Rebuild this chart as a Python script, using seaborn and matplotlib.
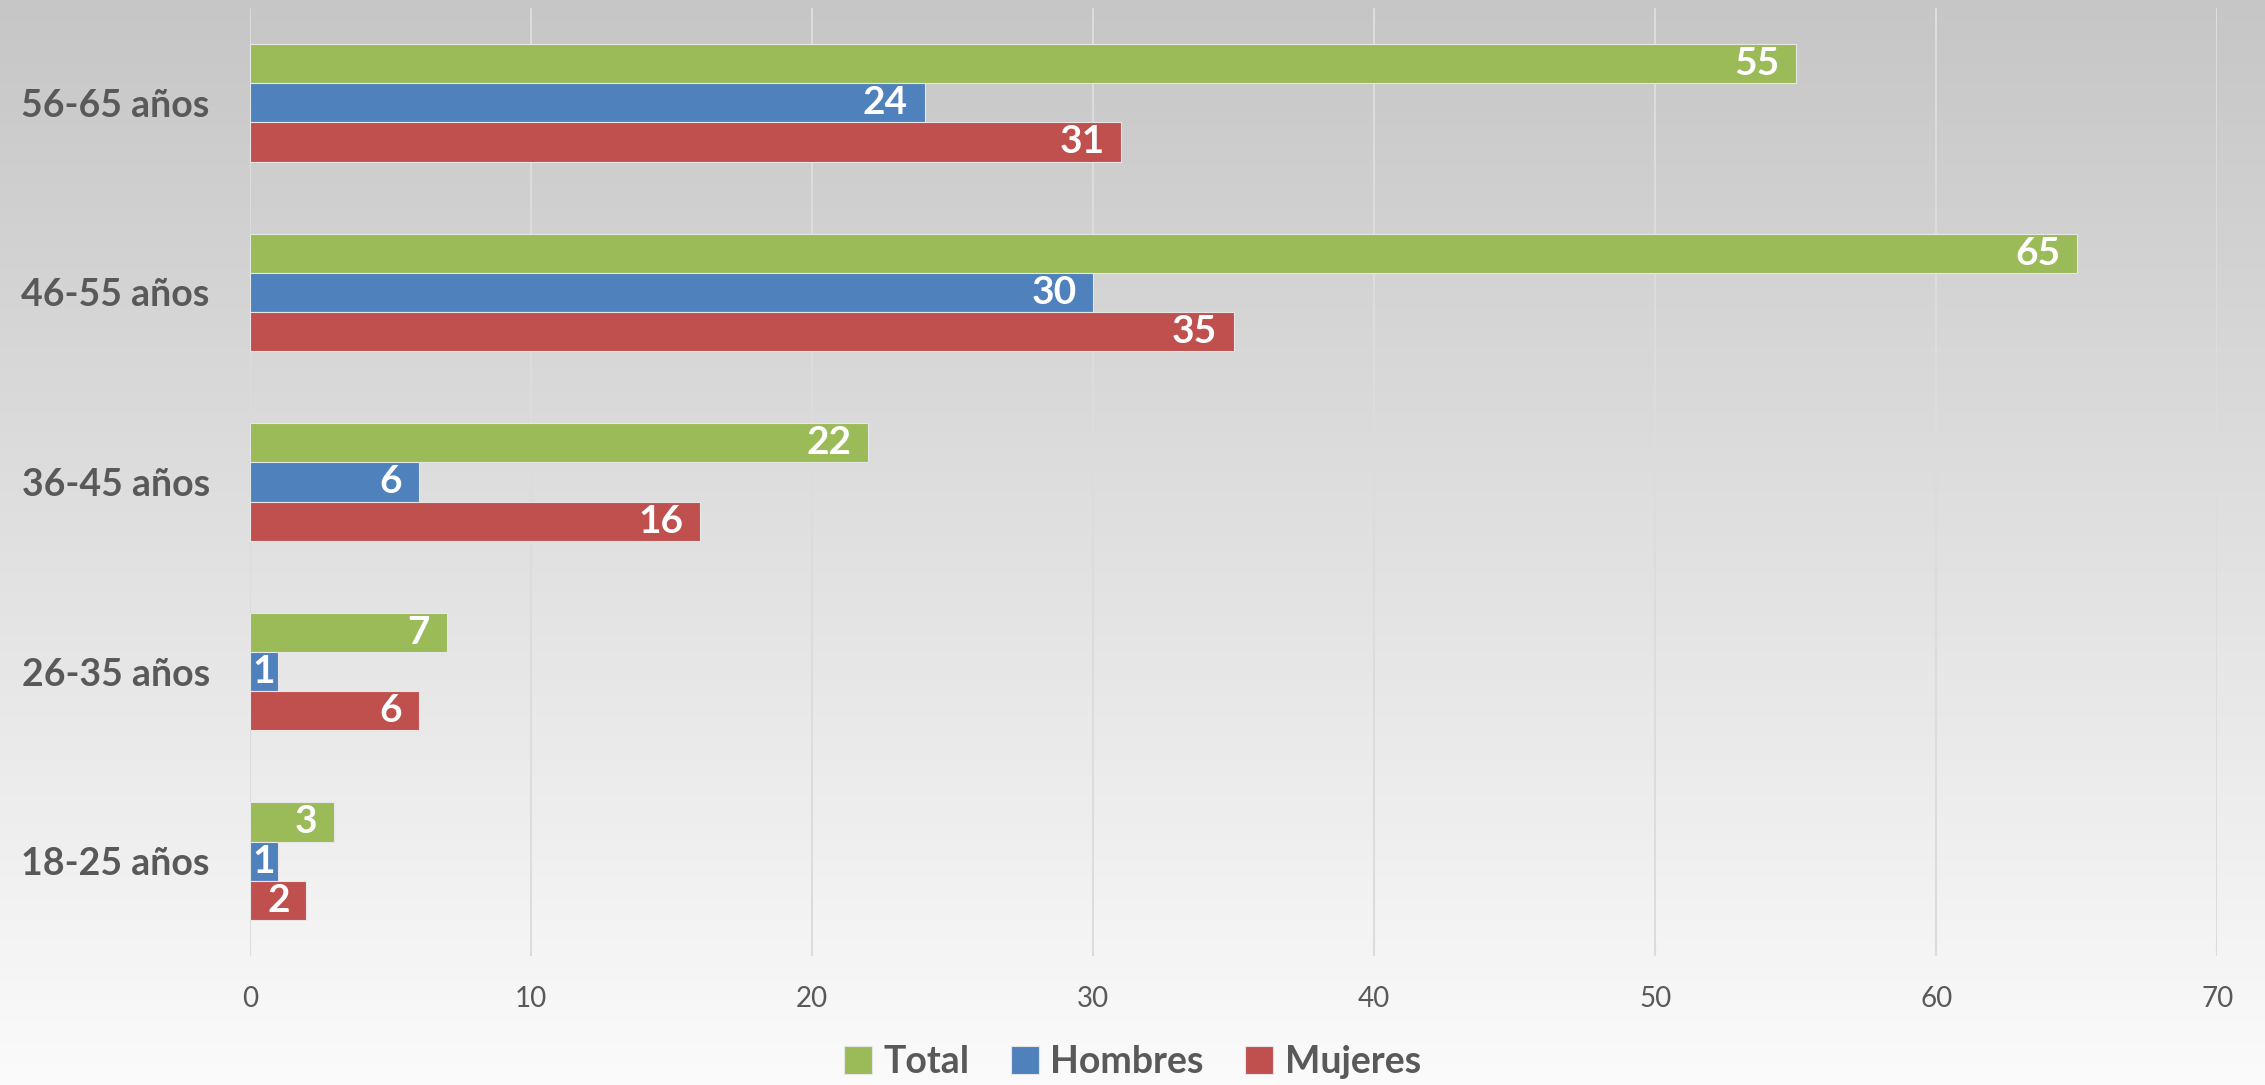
import numpy as np
import pandas as pd
import seaborn as sns
import matplotlib.pyplot as plt

# Data
age_groups = ["56-65 años", "46-55 años", "36-45 años", "26-35 años", "18-25 años"]
total = [55, 65, 22, 7, 3]
hombres = [24, 30, 6, 1, 1]
mujeres = [31, 35, 16, 6, 2]
series = ["Total", "Hombres", "Mujeres"]
x_ticks = [0, 10, 20, 30, 40, 50, 60, 70]

colors = ["#9BBB59", "#4F81BD", "#C0504D"]
text_gray = "#595959"

df = pd.DataFrame({
    "grupo": age_groups * 3,
    "serie": np.repeat(series, len(age_groups)),
    "valor": total + hombres + mujeres,
})

sns.set_style("white")
plt.rcParams["font.family"] = ["Lato", "DejaVu Sans"]

fig = plt.figure(figsize=(22.65, 10.85), dpi=100)

# Gradient background (gray at the top, near white at the bottom)
bg = fig.add_axes([0, 0, 1, 1], zorder=-10)
grad = np.linspace(0, 1, 256).reshape(-1, 1)
top = np.array([198, 198, 198]) / 255
bottom = np.array([251, 251, 251]) / 255
img = top + (bottom - top) * grad[..., None]
bg.imshow(img, aspect="auto", extent=[0, 1, 0, 1])
bg.axis("off")

ax = fig.add_axes([0.1104, 0.119, 0.979 - 0.1104, 0.9926 - 0.119])
ax.patch.set_alpha(0)

sns.barplot(
    data=df, x="valor", y="grupo", hue="serie", order=age_groups,
    hue_order=series, palette=colors, orient="h", width=0.62, gap=0,
    saturation=1, edgecolor="#E6E6E6", linewidth=0.8, ax=ax,
)

# Value labels inside the bar ends
for cont in ax.containers:
    for bar in cont:
        v = bar.get_width()
        yc = bar.get_y() + bar.get_height() / 2
        if v < 2:
            ax.text(v / 2, yc, f"{v:.0f}", ha="center", va="center",
                    color="white", fontsize=28, fontweight="bold")
        else:
            ax.annotate(f"{v:.0f}", xy=(v, yc), xytext=(-12, 0),
                        textcoords="offset points", ha="right", va="center",
                        color="white", fontsize=28, fontweight="bold")

ax.set_xlim(0, 70)
ax.set_xticks(x_ticks)
ax.set_ylim(4.5, -0.5)
ax.grid(axis="x", color="#DCDCDC", linewidth=1.5)
ax.set_axisbelow(True)
for s in ax.spines.values():
    s.set_visible(False)

ax.set_xlabel("")
ax.set_ylabel("")
ax.tick_params(axis="x", length=0, pad=22, labelsize=20, labelcolor=text_gray)
ax.tick_params(axis="y", length=0, pad=29, labelsize=27, labelcolor=text_gray)
for lbl in ax.get_yticklabels():
    lbl.set_fontweight("bold")

handles, labels = ax.get_legend_handles_labels()
ax.get_legend().remove()
fig.legend(handles, labels, loc="center", bbox_to_anchor=(0.5, 0.021), ncol=3,
           frameon=False, handlelength=0.75, handleheight=0.75, handletextpad=0.3,
           columnspacing=1.1, prop={"size": 27, "weight": "bold"},
           labelcolor=text_gray)

plt.savefig("out.png", dpi=100)
